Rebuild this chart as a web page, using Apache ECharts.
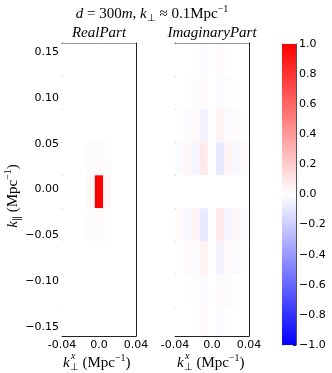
<!DOCTYPE html>
<html>
<head>
<meta charset="utf-8">
<script src="https://cdn.jsdelivr.net/npm/echarts@6/dist/echarts.min.js"></script>
<style>
  html, body { margin: 0; padding: 0; background: #fff; }
  #chart { width: 332px; height: 373px; }
</style>
</head>
<body>
<div id="chart"></div>
<script>
// cell centres (Mpc^-1), columns left->right, rows top->bottom
var kxCenters = [-0.036, -0.027, -0.018, -0.009, 0, 0.009, 0.018, 0.027, 0.036];
var kparCenters = [0.1415, 0.1055, 0.0695, 0.0335, -0.0025, -0.0385, -0.0745, -0.1105, -0.1465];
var cellW = 0.009;
var cellH = 0.036;

var realPart = [
  [0, 0, 0, 0, 0, 0, 0, 0, 0],
  [0, 0, 0, 0, 0, 0, 0, 0, 0],
  [0, 0, 0, 0, 0, 0, 0, 0, 0],
  [0, 0, 0, -0.01, 0.02, -0.01, 0, 0, 0],
  [0, 0, 0, 0.03, 1.0, 0.03, 0, 0, 0],
  [0, 0, 0, -0.01, 0.02, -0.01, 0, 0, 0],
  [0, 0, 0, 0, 0, 0, 0, 0, 0],
  [0, 0, 0, 0, 0, 0, 0, 0, 0],
  [0, 0, 0, 0, 0, 0, 0, 0, 0]
];
var imagPart = [
  [0, 0, 0, -0.02, 0, 0.02, 0, 0, 0],
  [0, 0, -0.01, 0.02, 0, -0.02, 0.01, 0, 0],
  [0, -0.015, 0.02, -0.05, 0, 0.05, -0.02, 0.015, 0],
  [-0.02, 0.03, -0.04, 0.09, 0, -0.09, 0.04, -0.03, 0.02],
  [0, 0, 0, 0, 0, 0, 0, 0, 0],
  [0.02, -0.03, 0.04, -0.09, 0, 0.09, -0.04, 0.03, -0.02],
  [0, 0.015, -0.02, 0.05, 0, -0.05, 0.02, -0.015, 0],
  [0, 0, 0.01, -0.02, 0, 0.02, -0.01, 0, 0],
  [0, 0, 0, 0.02, 0, -0.02, 0, 0, 0]
];
var kparTicks = [-0.15, -0.1, -0.05, 0, 0.05, 0.1, 0.15];
var cbarRange = [-1, 1];

function toCells(m) {
  var out = [];
  for (var i = 0; i < m.length; i++) {
    for (var j = 0; j < m[i].length; j++) {
      out.push([kxCenters[j], kparCenters[i], m[i][j]]);
    }
  }
  return out;
}

// matplotlib 'bwr'
function bwr(v) {
  v = Math.max(-1, Math.min(1, v));
  var r, g, b;
  if (v >= 0) { r = 255; g = b = Math.round(255 * (1 - v)); }
  else { b = 255; r = g = Math.round(255 * (1 + v)); }
  return 'rgb(' + r + ',' + g + ',' + b + ')';
}

function cellItem(params, api) {
  var x = api.value(0), y = api.value(1), v = api.value(2);
  var p1 = api.coord([x - cellW / 2, y + cellH / 2]);
  var p2 = api.coord([x + cellW / 2, y - cellH / 2]);
  var cs = params.coordSys;
  var rect = echarts.graphic.clipRectByRect(
    { x: p1[0], y: p1[1], width: p2[0] - p1[0], height: p2[1] - p1[1] },
    { x: cs.x, y: cs.y, width: cs.width, height: cs.height });
  if (!rect) return;
  return { type: 'rect', shape: rect, style: { fill: bwr(v) } };
}

function cbarItem(params, api) {
  var p1 = api.coord([0, api.value(1)]);
  var p2 = api.coord([1, api.value(0)]);
  return {
    type: 'rect',
    shape: { x: p1[0], y: p1[1], width: p2[0] - p1[0], height: p2[1] - p1[1] },
    style: {
      fill: new echarts.graphic.LinearGradient(0, 0, 0, 1, [
        { offset: 0, color: bwr(api.value(1)) },
        { offset: 0.5, color: bwr(0) },
        { offset: 1, color: bwr(api.value(0)) }
      ])
    }
  };
}

var lineStyle = { color: '#222', width: 1 };
var tickFont = { fontFamily: 'DejaVu Sans', fontSize: 11, color: '#000' };

function xAxes(grid) {
  var base = {
    type: 'value', gridIndex: grid, min: -0.04, max: 0.04, interval: 0.04,
    axisLine: { show: true, onZero: false, lineStyle: lineStyle },
    axisTick: { show: true, inside: true, length: 4, lineStyle: lineStyle },
    splitLine: { show: false }
  };
  var bottom = Object.assign({}, base, {
    position: 'bottom',
    axisLabel: Object.assign({ margin: 4, showMinLabel: true, showMaxLabel: true,
      formatter: function (v) { return v === 0 ? '0.0' : v.toFixed(2); } }, tickFont)
  });
  var top = Object.assign({}, base, { position: 'top', axisLabel: { show: false } });
  return [bottom, top];
}

function yAxes(grid, withTicks) {
  var base = {
    type: 'value', gridIndex: grid, min: -0.16, max: 0.16,
    axisLine: { show: true, onZero: false, lineStyle: lineStyle },
    axisTick: withTicks
      ? { show: true, inside: true, length: 4, lineStyle: lineStyle, customValues: kparTicks }
      : { show: false },
    splitLine: { show: false }
  };
  var left = Object.assign({}, base, {
    position: 'left',
    axisLabel: withTicks
      ? Object.assign({ margin: 3, customValues: kparTicks,
          formatter: function (v) { return v.toFixed(2).replace('-', '\u2212'); } }, tickFont)
      : { show: false }
  });
  var right = Object.assign({}, base, { position: 'right', axisLabel: { show: false } });
  return [left, right];
}

var serif = 'Liberation Serif';
var rich = {
  i: { fontFamily: serif, fontStyle: 'italic', fontSize: 15, color: '#000' },
  r: { fontFamily: serif, fontSize: 15, color: '#000' },
  sub: { fontFamily: serif, fontSize: 10, color: '#000', padding: [8, 0, 0, 0] },
  sup: { fontFamily: serif, fontSize: 10, color: '#000', padding: [0, 0, 9, 0] },
  supi: { fontFamily: serif, fontStyle: 'italic', fontSize: 10, color: '#000' }
};

function label(x, y, text, rot, align) {
  return {
    type: 'text', x: x, y: y, rotation: rot || 0,
    style: { text: text, rich: rich, textAlign: align || 'center', textVerticalAlign: 'middle' }
  };
}

var kxName = '{i|k}{sub|\u22a5}{r| (Mpc}{sup|\u22121}{r|)}';

var option = {
  animation: false,
  backgroundColor: '#fff',
  grid: [
    { left: 62, top: 43, width: 74, height: 293 },
    { left: 175, top: 43, width: 74, height: 293 },
    { left: 282, top: 44, width: 14, height: 301 }
  ],
  xAxis: xAxes(0).concat(xAxes(1)).concat([
    { type: 'value', gridIndex: 2, min: 0, max: 1, show: false }
  ]),
  yAxis: yAxes(0, true).concat(yAxes(1, false)).concat([
    {
      type: 'value', gridIndex: 2, min: cbarRange[0], max: cbarRange[1], interval: 0.2, position: 'right',
      axisLine: { show: true, onZero: false, lineStyle: { color: '#555', width: 1 } },
      axisTick: { show: true, inside: true, length: 3, lineStyle: lineStyle },
      axisLabel: Object.assign({ margin: 3,
        formatter: function (v) { return v.toFixed(1).replace('-', '\u2212'); } }, tickFont),
      splitLine: { show: false }
    },
    {
      type: 'value', gridIndex: 2, min: cbarRange[0], max: cbarRange[1], position: 'left',
      axisLine: { show: true, onZero: false, lineStyle: { color: '#555', width: 1 } },
      axisTick: { show: false }, axisLabel: { show: false }, splitLine: { show: false }
    }
  ]),
  series: [
    { type: 'custom', xAxisIndex: 0, yAxisIndex: 0, renderItem: cellItem, data: toCells(realPart), z: 1 },
    { type: 'custom', xAxisIndex: 2, yAxisIndex: 2, renderItem: cellItem, data: toCells(imagPart), z: 1 },
    { type: 'custom', xAxisIndex: 4, yAxisIndex: 4, renderItem: cbarItem, data: [cbarRange], z: 1 }
  ],
  graphic: [
    label(152, 14, '{i|d}{r| = 300}{i|m}{r|, }{i|k}{sub|\u22a5}{r| \u2248 0.1Mpc}{sup|\u22121}'),
    label(99, 33, '{i|RealPart}'),
    label(212, 33, '{i|ImaginaryPart}'),
    label(63, 363, kxName, 0, 'left'),
    label(71, 356, '{supi|x}', 0, 'left'),
    label(177, 363, kxName, 0, 'left'),
    label(185, 356, '{supi|x}', 0, 'left'),
    label(13, 196, '{i|k}{sub|\u2225}{r| (Mpc}{sup|\u22121}{r|)}', Math.PI / 2)
  ]
};

var chart = echarts.init(document.getElementById('chart'));
chart.setOption(option);
</script>
</body>
</html>
